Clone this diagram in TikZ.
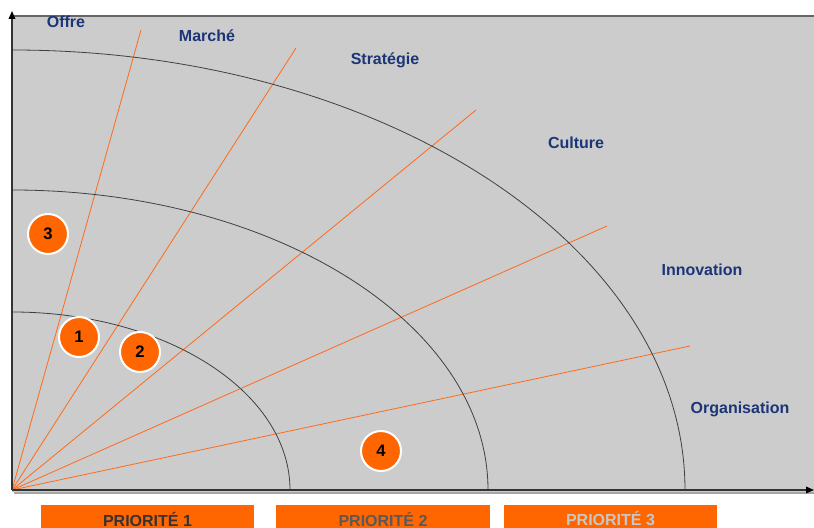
\documentclass[tikz,border=0pt]{standalone}
\usepackage{fontspec}
\setmainfont{Liberation Sans}
\usepackage{xcolor}
\usetikzlibrary{arrows.meta}
\definecolor{bggray}{HTML}{CCCCCC}
\definecolor{prioorange}{HTML}{FF6600}
\definecolor{rayorange}{HTML}{FF6A1A}
\definecolor{labelblue}{HTML}{1B3577}
\newcommand{\bulletsize}{30pt}

\begin{document}
\begin{tikzpicture}[x=0.75pt,y=0.75pt]
                \useasboundingbox (0,0) rectangle (814,528);
                \fill[bggray] (12,36) rectangle (814,512);
                \draw[black!60,line width=0.8pt] (12,512) -- (814,512);

                % origine et rayons
                \coordinate (O) at (12,38);
                \foreach \px/\py [count=\i] in {141/498,296/480,476/418,607/302,690/182}
                    \coordinate (r\i) at (\px,\py);
                \foreach \i in {1,...,5}
                    \draw[rayorange,line width=0.6pt] (O) -- (r\i);

                % arcs de priorite
                \begin{scope}[draw=black!75,line width=0.6pt]
                    \draw (290,38) arc[start angle=0,end angle=90,x radius=278,y radius=178];
                    \draw (488,38) arc[start angle=0,end angle=90,x radius=476,y radius=300];
                    \draw (685,38) arc[start angle=0,end angle=90,x radius=673,y radius=440];
                \end{scope}

                % axes
                \begin{scope}[>={Triangle[black,length=6pt,width=5pt]},
                    line width=1pt,draw=black!80]
                    \draw[black!35,line width=0.8pt] (14,35) -- (814,35);
                    \draw[->] (O) -- (12,517);
                    \draw[->] (O) -- (814,38);
                \end{scope}

                % dimensions
                \begin{scope}[every node/.style={text=labelblue,font=\bfseries\fontsize{12}{12}\selectfont}]
                    \node (offre) at (66,506) {Offre};
                    \node (marche) at (207,492) {Marché};
                    \node (strategie) at (385,468) {Stratégie};
                    \node (culture) at (576,385) {Culture};
                    \node (innovation) at (702,258) {Innovation};
                    \node (organisation) at (740,119) {Organisation};
                \end{scope}

                % pastilles
                \begin{scope}[every node/.style={circle,fill=prioorange,draw=white,line width=1.5pt,
                    minimum size=\bulletsize,inner sep=0pt,font=\bfseries\fontsize{12.5}{12}\selectfont}]
                    \node (p3) at (48,294) {3};
                    \node (p1) at (79,191) {1};
                    \node (p2) at (140,176) {2};
                    \node (p4) at (381,77) {4};
                \end{scope}

                % priorites
                \begin{scope}[every node/.style={fill=prioorange,minimum width=160pt,minimum height=21pt,
                    inner sep=0pt,font=\bfseries\fontsize{12}{12}\selectfont}]
                    \node[text=black!80] (prio1) at (147.5,9) {PRIORITÉ 1};
                    \node[text=black!65] (prio2) at (383,9) {PRIORITÉ 2};
                    \node[text=black!22] (prio3) at (610.5,9) {PRIORITÉ 3};
                \end{scope}
            \end{tikzpicture}
\end{document}
